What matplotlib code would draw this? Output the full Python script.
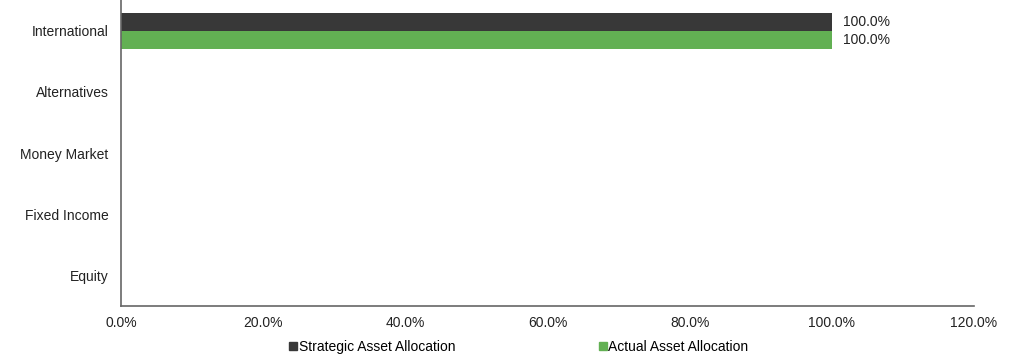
import matplotlib.pyplot as plt
from matplotlib.lines import Line2D
import numpy as np

plt.rcParams['font.family'] = ['Liberation Sans', 'DejaVu Sans']

categorias = ['Equity', 'Fixed Income', 'Money Market', 'Alternatives', 'International']
estrategica = [0.0, 0.0, 0.0, 0.0, 100.0]
actual = [0.0, 0.0, 0.0, 0.0, 100.0]
series = ['Strategic Asset Allocation', 'Actual Asset Allocation']
colores = ['#383838', '#62b053']
xticks = [0, 20, 40, 60, 80, 100, 120]

fig = plt.figure(figsize=(10.23, 3.59), dpi=100)
ax = fig.add_axes([0.1183, 0.1476, 0.952 - 0.1183, 0.8524])

y = np.arange(len(categorias))
h = 0.295
# barras: estrategica arriba, actual abajo
ax.barh(y + h / 2, actual, height=h, color=colores[1])
ax.barh(y + h * 1.5, estrategica, height=h, color=colores[0])

# etiquetas de valor solo donde hay barra
for i in range(len(y)):
    if estrategica[i] > 0:
        ax.text(estrategica[i] + 1.6, y[i] + h * 1.5, f'{estrategica[i]:.1f}%',
                va='center', ha='left', fontsize=10, color='#222222')
    if actual[i] > 0:
        ax.text(actual[i] + 1.6, y[i] + h / 2, f'{actual[i]:.1f}%',
                va='center', ha='left', fontsize=10, color='#222222')

ax.set_xlim(0, 120)
ax.set_ylim(-0.5 + h, len(y) - 0.5 + h)
ax.set_yticks(y + h)
ax.set_yticklabels(categorias, fontsize=10)
ax.set_xticks(xticks)
ax.set_xticklabels([f'{v:.1f}%' for v in xticks], fontsize=10)
ax.tick_params(axis='both', length=0, colors='#222222')
ax.tick_params(axis='x', pad=7)
ax.tick_params(axis='y', pad=9)
for s in ['top', 'right']:
    ax.spines[s].set_visible(False)
for s in ['left', 'bottom']:
    ax.spines[s].set_color('#666666')
    ax.spines[s].set_linewidth(1.2)

handles = [Line2D([], [], marker='s', linestyle='none', color=c, markersize=6) for c in colores]
fig.legend(handles, series, loc='center', bbox_to_anchor=(0.507, 0.033), ncol=2,
           frameon=False, fontsize=10, handlelength=0.6, handletextpad=0.1,
           columnspacing=10.3)

plt.savefig('out.png', dpi=100)
